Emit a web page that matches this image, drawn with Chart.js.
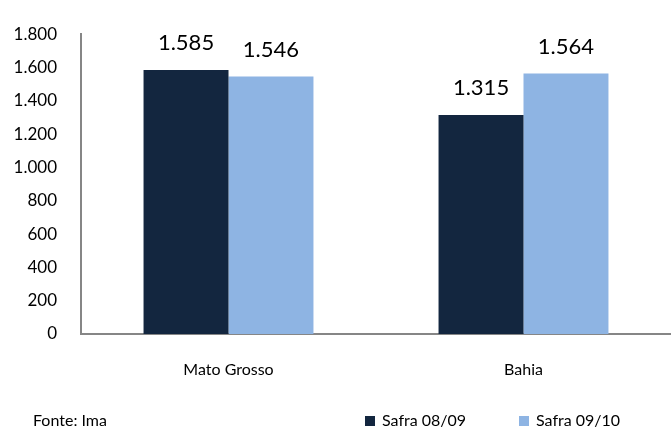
<!DOCTYPE html>
<html>
<head>
<meta charset="utf-8">
<script src="https://cdn.jsdelivr.net/npm/chart.js@4/dist/chart.umd.min.js"></script>
<style>
  html, body { margin: 0; padding: 0; background: #fff; }
  #wrap { width: 671px; height: 430px; position: relative; }
</style>
</head>
<body>
<div id="wrap"><canvas id="grafico" width="671" height="430"></canvas></div>
<script>
var categorias = ['Mato Grosso', 'Bahia'];
var safra0809 = [1585, 1315];
var safra0910 = [1546, 1564];
var nomesSeries = ['Safra 08/09', 'Safra 09/10'];
var coresSeries = ['#13263F', '#8EB4E3'];
var fonte = 'Fonte: Ima';
var fontFamily = 'Lato, "Open Sans", sans-serif';

// formata numero com ponto de milhar
function fmt(v) {
    return v.toString().replace(/\B(?=(\d{3})+(?!\d))/g, '.');
}

// rotulos em cima das barras
var rotulosPlugin = {
    id: 'rotulos',
    afterDatasetsDraw: function (chart) {
        var ctx = chart.ctx;
        ctx.save();
        ctx.font = '22px ' + fontFamily;
        ctx.fillStyle = '#000';
        ctx.textAlign = 'center';
        ctx.textBaseline = 'middle';
        chart.data.datasets.forEach(function (ds, i) {
            chart.getDatasetMeta(i).data.forEach(function (bar, j) {
                ctx.fillText(fmt(ds.data[j]), bar.x, bar.y - 27);
            });
        });
        ctx.restore();
    }
};

// legenda e fonte no rodape
var rodapePlugin = {
    id: 'rodape',
    afterDraw: function (chart) {
        var ctx = chart.ctx;
        var y = 421;
        ctx.save();
        ctx.font = '16px ' + fontFamily;
        ctx.fillStyle = '#000';
        ctx.textBaseline = 'middle';
        ctx.textAlign = 'left';
        ctx.fillText(fonte, 33, y);
        var xs = [365, 519];
        chart.data.datasets.forEach(function (ds, i) {
            ctx.fillStyle = ds.backgroundColor;
            ctx.fillRect(xs[i], y - 5, 10, 10);
            ctx.fillStyle = '#000';
            ctx.fillText(ds.label, xs[i] + 17, y);
        });
        ctx.restore();
    }
};

var ctx = document.getElementById('grafico').getContext('2d');
new Chart(ctx, {
    type: 'bar',
    data: {
        labels: categorias,
        datasets: [{
            label: nomesSeries[0],
            data: safra0809,
            backgroundColor: coresSeries[0],
            categoryPercentage: 0.576,
            barPercentage: 1.0
        }, {
            label: nomesSeries[1],
            data: safra0910,
            backgroundColor: coresSeries[1],
            categoryPercentage: 0.576,
            barPercentage: 1.0
        }]
    },
    options: {
        responsive: false,
        animation: false,
        layout: { padding: { top: 20, right: 0, bottom: 0, left: 0 } },
        scales: {
            y: {
                min: 0,
                max: 1800,
                afterFit: function (scale) { scale.width = 81; },
                ticks: {
                    stepSize: 200,
                    padding: 24,
                    color: '#000',
                    font: { family: fontFamily, size: 17 },
                    callback: function (v) { return fmt(v); }
                },
                grid: { display: false, drawTicks: false },
                border: { display: true, color: '#868686', width: 2 }
            },
            x: {
                afterFit: function (scale) { scale.height = 96; },
                ticks: {
                    padding: 26,
                    color: '#000',
                    font: { family: fontFamily, size: 16 }
                },
                grid: { display: false, drawTicks: false },
                border: { display: true, color: '#868686', width: 2 }
            }
        },
        plugins: {
            legend: { display: false },
            tooltip: { enabled: false }
        }
    },
    plugins: [rotulosPlugin, rodapePlugin]
});
</script>
</body>
</html>
